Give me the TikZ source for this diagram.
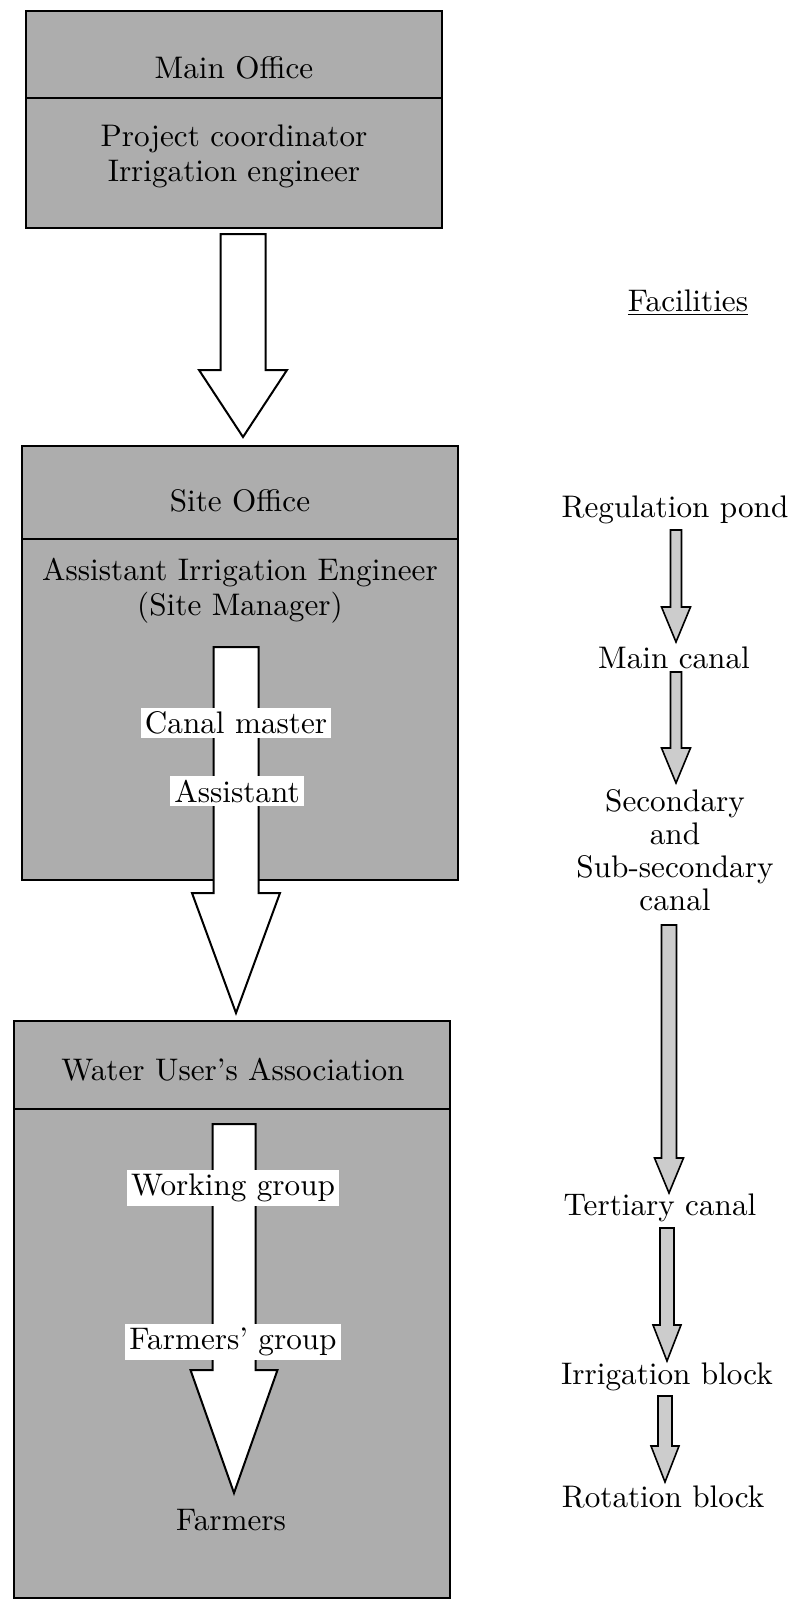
\documentclass[tikz,border=0pt]{standalone}
\usepackage{fontspec}
\setmainfont{lmroman10-regular.otf}
\usetikzlibrary{calc}
\tikzset{
  officebox/.style={draw=black,fill=black!32,line width=1pt},
  divider/.style={draw=black,line width=0.8pt},
  title/.style={font=\fontsize{15.6}{17.5}\selectfont,align=center,inner sep=1pt},
  onarrow/.style={title,fill=white,inner sep=2pt},
  facility/.style={font=\fontsize{15.6}{16.5}\selectfont,align=center,inner sep=1pt},
  bigarrow/.style={draw=black,fill=white,line width=1pt,line join=miter},
  flowarrow/.style={draw=black,fill=black!20,line width=0.8pt,line join=miter}
}
% start, tip, half shaft width, half head width, head length
\newcommand{\blockarrow}[6][]{%
  \draw[#1] ($(#2)+(-#4,0)$) -- ($(#3)+(-#4,-#6)$) -- ($(#3)+(-#5,-#6)$) -- (#3)
    -- ($(#3)+(#5,-#6)$) -- ($(#3)+(#4,-#6)$) -- ($(#2)+(#4,0)$) -- cycle;}
\begin{document}
\begin{tikzpicture}[x=0.5pt,y=-0.5pt]
  \useasboundingbox (0,0) rectangle (795,1601);

  % organisation
  \draw[officebox] (26,11) rectangle (442,228);
  \draw[divider] (26,98) -- (442,98);
  \node[title] (mainoff) at (234,68) {Main Office};
  \node[title] (mainstaff) at (234,156) {Project coordinator\\Irrigation engineer};

  \draw[officebox] (22,446) rectangle (458,880);
  \draw[divider] (22,539) -- (458,539);
  \node[title] (siteoff) at (240,501) {Site Office};
  \node[title] (sitestaff) at (240,591) {Assistant Irrigation Engineer\\(Site Manager)};

  \draw[officebox] (14,1021) rectangle (450,1598);
  \draw[divider] (14,1109) -- (450,1109);
  \node[title] (wua) at (233,1070) {Water User's Association};
  \node[title] (farmers) at (231,1520) {Farmers};

  \coordinate (a1s) at (243,234);  \coordinate (a1t) at (243,437);
  \coordinate (a2s) at (236,647);  \coordinate (a2t) at (236,1013);
  \coordinate (a3s) at (234,1124); \coordinate (a3t) at (234,1493);
  \blockarrow[bigarrow]{a1s}{a1t}{22.5}{44}{67}
  \blockarrow[bigarrow]{a2s}{a2t}{22.5}{44}{120}
  \blockarrow[bigarrow]{a3s}{a3t}{21.5}{43.5}{123}

  \node[onarrow] (canalm) at (236,723) {Canal master};
  \node[onarrow] (assist) at (237,791) {Assistant};
  \node[onarrow] (workg) at (233,1188) {Working group};
  \node[onarrow] (farmg) at (233,1342) {Farmers' group};

  % facilities
  \node[facility] (facil) at (688,303) {\underline{Facilities}};
  \node[facility] (pond) at (675,510) {Regulation pond};
  \node[facility] (maincanal) at (674,658) {Main canal};
  \node[facility] (second) at (675,850) {Secondary\\and\\Sub-secondary\\canal};
  \node[facility] (tert) at (660,1208) {Tertiary canal};
  \node[facility] (irrb) at (667,1377) {Irrigation block};
  \node[facility] (rotb) at (663,1497) {Rotation block};

  \coordinate (r1s) at (676,530);  \coordinate (r1t) at (676,642);
  \coordinate (r2s) at (676,672);  \coordinate (r2t) at (676,783);
  \coordinate (r3s) at (669,925);  \coordinate (r3t) at (669,1193);
  \coordinate (r4s) at (667,1228); \coordinate (r4t) at (667,1361);
  \coordinate (r5s) at (665,1396); \coordinate (r5t) at (665,1482);
  \blockarrow[flowarrow]{r1s}{r1t}{5.5}{14.5}{35}
  \blockarrow[flowarrow]{r2s}{r2t}{5.5}{14.5}{35}
  \blockarrow[flowarrow]{r3s}{r3t}{7.5}{14.5}{35}
  \blockarrow[flowarrow]{r4s}{r4t}{7}{14}{36}
  \blockarrow[flowarrow]{r5s}{r5t}{7}{14}{36}
\end{tikzpicture}
\end{document}
